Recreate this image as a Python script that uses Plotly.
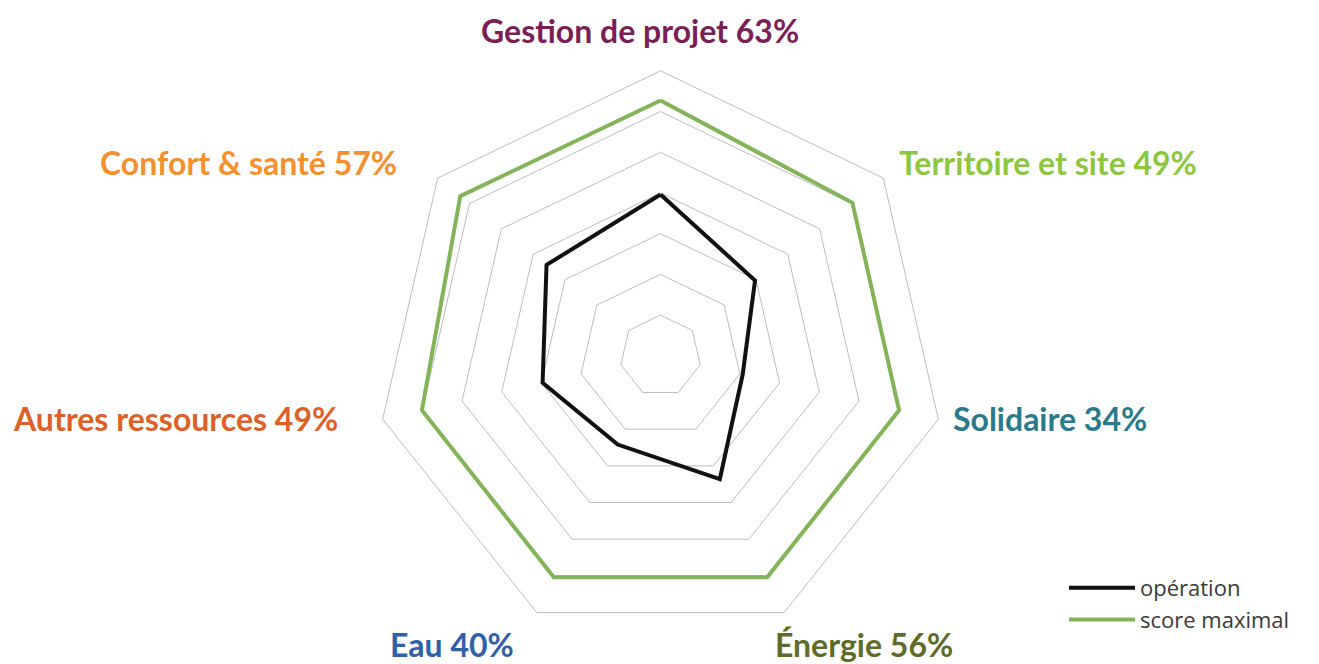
import plotly.graph_objects as go

categories = ["Gestion de projet", "Territoire et site", "Solidaire", "Énergie",
              "Eau", "Autres ressources", "Confort & santé"]
operation = [39.6, 29.7, 20.7, 33.6, 24.2, 29.7, 35.8]
score_maximal = [62.7, 60.3, 60.1, 60.4, 60.4, 60.1, 62.9]
percent_labels = ["63%", "49%", "34%", "56%", "40%", "49%", "57%"]
label_colors = ["#7a1f55", "#8dc63f", "#2a7a8c", "#5f6b2a", "#3060a8", "#dc6128", "#f5902e"]
radial_ticks = [10, 20, 30, 40, 50, 60, 70]

W, H = 1319, 664
OFF = 8  # page body margin
cx, cy, R = 660.5 - OFF, 355.8 - OFF, 285.0

fig = go.Figure()
fig.add_trace(go.Scatterpolar(
    r=operation + operation[:1], theta=categories + categories[:1],
    mode="lines", name="opération",
    line=dict(color="#111111", width=4), hoverinfo="skip"))
fig.add_trace(go.Scatterpolar(
    r=score_maximal + score_maximal[:1], theta=categories + categories[:1],
    mode="lines", name="score maximal",
    line=dict(color="#84b45a", width=4), hoverinfo="skip"))

# label positions (reference px) for each axis label
label_pos = [
    (640, 31, "center"),
    (897, 162, "left"),
    (951, 418, "left"),
    (773, 644, "left"),
    (516, 644, "right"),
    (340, 418, "right"),
    (399, 162, "right"),
]
annotations = []
for cat, pct, col, (px, py, anc) in zip(categories, percent_labels, label_colors, label_pos):
    annotations.append(dict(
        x=(px - OFF) / W, y=1 - (py - OFF) / H, xref="paper", yref="paper",
        text=f"<b>{cat} {pct}</b>", showarrow=False,
        xanchor=anc, yanchor="middle",
        font=dict(family="Lato, 'Open Sans', sans-serif", size=32, color=col)))

fig.update_layout(
    width=W, height=H,
    margin=dict(l=0, r=0, t=0, b=0),
    paper_bgcolor="white", plot_bgcolor="white",
    polar=dict(
        domain=dict(x=[(cx - R) / W, (cx + R) / W], y=[1 - (cy + R) / H, 1 - (cy - R) / H]),
        bgcolor="white",
        gridshape="linear",
        radialaxis=dict(range=[0, 70], tickvals=radial_ticks, showticklabels=False,
                        ticks="", showline=False, gridcolor="#bdbdbd", gridwidth=1),
        angularaxis=dict(rotation=90, direction="clockwise", showticklabels=False,
                         ticks="", showgrid=False, showline=True,
                         linecolor="#bdbdbd", linewidth=1),
    ),
    showlegend=True,
    legend=dict(x=(1064 - OFF) / W, y=1 - (567 - OFF) / H, xanchor="left", yanchor="top",
                font=dict(family="'Open Sans', sans-serif", size=22, color="#3a3a3a"),
                itemwidth=66, tracegroupgap=0, bgcolor="rgba(0,0,0,0)"),
    annotations=annotations,
)

fig.write_html("out.html")
